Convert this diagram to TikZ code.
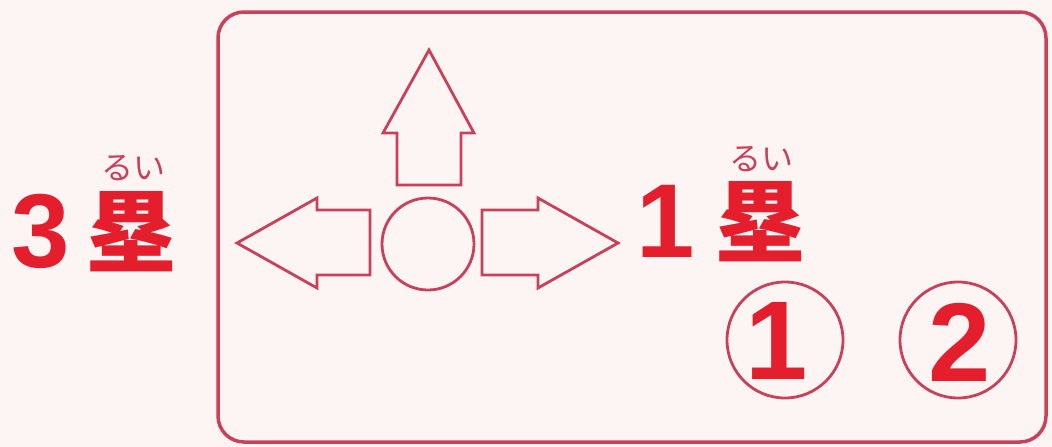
\documentclass[tikz,border=0pt]{standalone}
\usepackage{fontspec}
\setmainfont{Liberation Sans}
\newfontfamily\cjk{Noto Sans CJK JP}
\definecolor{bg}{HTML}{FDF5F3}
\definecolor{lineR}{HTML}{C8405A}
\definecolor{textR}{HTML}{E41E2D}
\tikzset{
  outline/.style={draw=lineR, line width=2.8pt, line join=miter, fill=none},
  digit/.style={text=textR, inner sep=0pt, font=\bfseries\fontsize{105}{105}\selectfont},
  kanji/.style={text=textR, inner sep=0pt, font=\cjk\bfseries\fontsize{90}{90}\selectfont},
  ruby/.style={text=lineR, inner sep=0pt, font=\cjk\fontsize{32}{32}\selectfont},
  ring/.style={circle, draw=lineR, line width=2.8pt, minimum size=116pt, inner sep=0pt},
  ringdigit/.style={text=textR, inner sep=0pt, font=\bfseries\fontsize{112}{112}\selectfont},
}
\begin{document}
\begin{tikzpicture}[x=1pt,y=-1pt]
\fill[bg] (0,0) rectangle (1052,447);
\useasboundingbox (0,0) rectangle (1052,447);
% frame
\draw[draw=lineR, line width=3.5pt, rounded corners=26pt] (218,12) rectangle (1046,442);
% arrows
\draw[outline] (429,50) -- (474,133) -- (461,133) -- (461,185) -- (397,185) -- (397,133) -- (383,133) -- cycle;
\draw[outline] (237,243) -- (317,198) -- (317,210) -- (370,210) -- (370,275) -- (317,275) -- (317,288) -- cycle;
\draw[outline] (618,243) -- (538,198) -- (538,210) -- (482,210) -- (482,275) -- (538,275) -- (538,288) -- cycle;
\node[circle, draw=lineR, line width=2.8pt, minimum size=92pt, inner sep=0pt] (home) at (428,244) {};
% labels
\node[digit] (three) at (41,231) {3};
\node[kanji] (base3) at (131.5,231.5) {塁};
\node[ruby] (ruby3) at (133,168) {るい};
\node[digit] (one) at (666,221.5) {1};
\node[kanji] (base1) at (760,221.5) {塁};
\node[ruby] (ruby1) at (761.5,159) {るい};
% circled numbers
\node[ring] (c1) at (785,340) {};
\node[ringdigit] (d1) at (777,341) {1};
\node[ring] (c2) at (958,340) {};
\node[ringdigit] (d2) at (960,342) {2};
\end{tikzpicture}
\end{document}
